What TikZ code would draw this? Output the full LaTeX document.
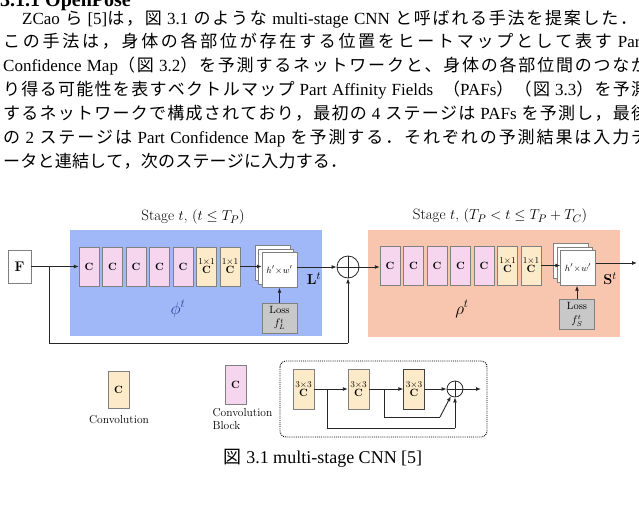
\documentclass[tikz,border=0pt]{standalone}
\usepackage[no-math]{fontspec}
\usepackage{amsmath,amssymb}
\usetikzlibrary{arrows.meta,calc}
\newfontfamily\jpfont{Noto Sans CJK JP}
\newfontfamily\tnr{Liberation Serif}
% automatic switch to the Japanese font for CJK characters
\XeTeXinterchartokenstate=1
\chardef\jpcls=10
\makeatletter
\def\setjprange#1#2{\count@=#1\relax
  \loop\XeTeXcharclass\count@=\jpcls\relax
  \ifnum\count@<#2\advance\count@ by 1\repeat}
\makeatother
\setjprange{"3000}{"30FF}
\setjprange{"4E00}{"9FFF}
\setjprange{"FF00}{"FFEF}
\def\jpskip{\hskip 0pt plus 1pt\relax}
\XeTeXinterchartoks 0 \jpcls = {\begingroup\jpfont}
\XeTeXinterchartoks 4095 \jpcls = {\begingroup\jpfont}
\XeTeXinterchartoks \jpcls 0 = {\endgroup}
\XeTeXinterchartoks \jpcls 4095 = {\endgroup}
\XeTeXinterchartoks \jpcls \jpcls = {\jpskip}
\newcommand\bodyfont{\tnr\fontsize{17}{20}\selectfont\spaceskip=4.25pt plus 0.6pt\relax}
\newcommand\capfont{\tnr\fontsize{18}{20}\selectfont}

\definecolor{bluebg}{RGB}{160,184,248}
\definecolor{salmon}{RGB}{248,198,174}
\definecolor{pinkc}{RGB}{246,214,238}
\definecolor{wheatc}{RGB}{252,234,200}
\definecolor{lossg}{RGB}{200,200,200}
\definecolor{edgeg}{RGB}{128,128,128}
\definecolor{phiblue}{RGB}{40,70,160}

\tikzset{
  bodytext/.style={anchor=base west,inner sep=0pt,font=\bodyfont},
  pinkbox/.style={rectangle,draw=edgeg,fill=pinkc,minimum width=20pt,
    minimum height=39pt,inner sep=0pt,font=\fontsize{10.5}{10}\selectfont\bfseries},
  wheatbox/.style={rectangle,draw=edgeg,fill=wheatc,minimum width=20pt,
    minimum height=39pt,inner sep=0pt,align=center,
    font=\fontsize{9}{10}\selectfont},
  mapbox/.style={rectangle,draw=edgeg,fill=white,minimum width=35pt,
    minimum height=35pt,inner sep=0pt,font=\fontsize{9.5}{9.5}\selectfont},
  lossbox/.style={rectangle,draw=edgeg,fill=lossg,minimum width=35pt,
    minimum height=30pt,inner sep=0pt,align=center,
    font=\fontsize{10.5}{12}\selectfont},
  conn/.style={draw=black!85,line width=0.9pt},
  arr/.style={conn,-{Latex[length=5pt,width=4pt]}},
  sumnode/.style={circle,draw=black!85,line width=0.8pt,minimum size=22pt,inner sep=0pt},
  title/.style={font=\fontsize{15}{15}\selectfont},
  legendtxt/.style={font=\fontsize{11.5}{13}\selectfont}
}

\begin{document}
\begin{tikzpicture}[x=1pt,y=-1pt]
\useasboundingbox (0,0) rectangle (639,507);

% ---------- body text ----------
\node[anchor=base west,inner sep=0pt,font=\tnr\bfseries\fontsize{20}{20}\selectfont] (head) at (0,6) {3.1.1 OpenPose};
\node[bodytext] (l1) at (22,24) {\hbox to 615pt{ZCao ら [5]は，図 3.1 のような multi-stage CNN と呼ばれる手法を提案した．}};
\node[bodytext] (l2) at (3,47.8) {\hbox to 642pt{この手法は，身体の各部位が存在する位置をヒートマップとして表す Part}};
\node[bodytext] (l3) at (3,71.6) {\hbox to 645pt{Confidence Map（図 3.2）を予測するネットワークと、身体の各部位間のつなが}};
\node[bodytext] (l4) at (3,95.4) {\hbox to 645pt{り得る可能性を表すベクトルマップ Part Affinity Fields \ （PAFs）（図 3.3）を予測}};
\node[bodytext] (l5) at (3,119.2) {\hbox to 645pt{するネットワークで構成されており，最初の 4 ステージは PAFs を予測し，最後}};
\node[bodytext] (l6) at (3,143) {\hbox to 645pt{の 2 ステージは Part Confidence Map を予測する．それぞれの予測結果は入力デ}};
\node[bodytext] (l7) at (3,167.5) {\hbox to 344pt{ータと連結して，次のステージに入力する．}};

% ---------- stage backgrounds ----------
\fill[bluebg] (70,230) rectangle (322,336);
\fill[salmon] (368,230) rectangle (620,337);
\node[title] (t1) at (193,217) {Stage $t$, $(t \leq T_P)$};
\node[title] (t2) at (500,216) {Stage $t$, $(T_P < t \leq T_P + T_C)$};

% ---------- input ----------
\node[rectangle,draw=edgeg,fill=white,minimum width=23pt,minimum height=33pt,
  inner sep=0pt,font=\fontsize{14}{14}\selectfont\bfseries] (F) at (19.5,266.5) {F};

% ---------- stage 1 ----------
\foreach \i/\x in {1/89,2/112.5,3/136,4/159.5,5/183}
  \node[pinkbox] (p\i) at (\x,266.5) {C};
\node[wheatbox] (o1) at (206.5,266.5) {1$\times$1\\[-1pt]\textbf{\fontsize{10.5}{10}\selectfont C}};
\node[wheatbox] (o2) at (230,266.5) {1$\times$1\\[-1pt]\textbf{\fontsize{10.5}{10}\selectfont C}};
\node[mapbox] (s1b) at (272.5,263) {};
\node[mapbox] (s1m) at (276,266.5) {};
\node[mapbox] (s1) at (279.5,270) {$h'\!\times\! w'$};
\node[lossbox] (loss1) at (279.5,318) {Loss\\[1.5pt]$f_L^t$};
\node[font=\fontsize{15}{15}\selectfont] (Lt) at (314,279) {$\mathbf{L}^t$};
\node[font=\fontsize{17}{17}\selectfont,text=phiblue] (phi) at (178,309) {$\phi^t$};

% ---------- sum ----------
\node[sumnode] (c) at (348,267) {};
\draw[black!85,line width=0.8pt] (c.north) -- (c.south) (c.west) -- (c.east);

% ---------- stage 2 ----------
\foreach \i/\x in {1/390,2/413.5,3/437,4/460.5,5/484}
  \node[pinkbox] (q\i) at (\x,265.5) {C};
\node[wheatbox] (r1) at (507.5,265.5) {1$\times$1\\[-1pt]\textbf{\fontsize{10.5}{10}\selectfont C}};
\node[wheatbox] (r2) at (531,265.5) {1$\times$1\\[-1pt]\textbf{\fontsize{10.5}{10}\selectfont C}};
\node[mapbox] (s2b) at (571,261) {};
\node[mapbox] (s2m) at (574.5,264.5) {};
\node[mapbox] (s2) at (578,268) {$h'\!\times\! w'$};
\node[lossbox] (loss2) at (577,314.5) {Loss\\[1.5pt]$f_S^t$};
\node[font=\fontsize{15}{15}\selectfont] (St) at (610,279) {$\mathbf{S}^t$};
\node[font=\fontsize{17}{17}\selectfont] (rho) at (462,309) {$\rho^t$};

% ---------- connectors ----------
\coordinate (br) at (49,266.5);
\coordinate (out) at (637,263);
\draw[arr] (F.east) -- (p1.west);
\draw[conn] (br) -- (49,343) -- (c.south |- 0,343);
\draw[arr] (c.south |- 0,343) -- (c.south);
\draw[arr] (o2.east) -- (o2.east -| s1.west);
\draw[arr] (loss1.north) -- (s1.south);
\draw[arr] (s1.east |- c.west) -- (c.west);
\draw[arr] (c.east) -- (c.east -| q1.west);
\draw[arr] (r2.east) -- (r2.east -| s2.west);
\draw[arr] (loss2.north) -- (loss2.north |- s2.south);
\draw[arr] (s2.east |- out) -- (out);

% ---------- legend ----------
\node[wheatbox,minimum width=21pt,minimum height=37pt,font=\fontsize{10.5}{10}\selectfont\bfseries] (lg1) at (118.5,389.5) {C};
\node[legendtxt] (lg1t) at (119,420) {Convolution};
\node[pinkbox,minimum width=21pt,minimum height=39pt] (lg2) at (235.5,384.5) {C};
\node[legendtxt,anchor=north west,align=left] (lg2t) at (209,405) {Convolution\\Block};

\draw[densely dotted,line width=0.9pt,rounded corners=6pt] (280,361) rectangle (487,437);
\node[wheatbox,minimum width=21pt,minimum height=40pt] (b1) at (303.5,389) {3$\times$3\\[-1pt]\textbf{\fontsize{10.5}{10}\selectfont C}};
\node[wheatbox,minimum width=21pt,minimum height=40pt] (b2) at (358.5,389) {3$\times$3\\[-1pt]\textbf{\fontsize{10.5}{10}\selectfont C}};
\node[wheatbox,minimum width=21pt,minimum height=40pt,draw=black!75] (b3) at (414,389) {3$\times$3\\[-1pt]\textbf{\fontsize{10.5}{10}\selectfont C}};
\node[sumnode,minimum size=16pt] (c2) at (455,389) {};
\draw[black!85,line width=0.8pt] (c2.north) -- (c2.south) (c2.west) -- (c2.east);
\coordinate (rout) at (481,389);
\draw[arr] (b1.east) -- (b2.west);
\draw[arr] (b2.east) -- (b3.west);
\draw[arr] (b3.east) -- (c2.west);
\draw[arr] (c2.east) -- (rout);
\draw[conn] (327,389) -- (327,428) -- (c2.south |- 0,428);
\draw[arr] (c2.south |- 0,428) -- (c2.south);
\draw[conn] (384,389) -- (384,417) -- (440,417);
\draw[arr] (440,417) -- (c2.-120);

% ---------- caption ----------
\node[anchor=base,inner sep=0pt,font=\capfont] (cap) at (323,463) {図 3.1 multi-stage CNN [5]};
\end{tikzpicture}
\end{document}
